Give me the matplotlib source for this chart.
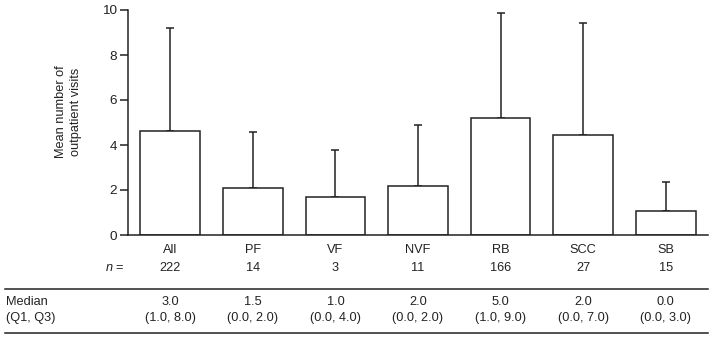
import matplotlib.pyplot as plt
from matplotlib.transforms import blended_transform_factory

plt.rcParams['font.family'] = ['Liberation Sans', 'DejaVu Sans']
plt.rcParams['mathtext.fontset'] = 'custom'
plt.rcParams['mathtext.it'] = 'Liberation Sans:italic'
plt.rcParams['mathtext.rm'] = 'Liberation Sans'

groups = ['All', 'PF', 'VF', 'NVF', 'RB', 'SCC', 'SB']
n_vals = ['222', '14', '3', '11', '166', '27', '15']
means = [4.61, 2.07, 1.69, 2.19, 5.19, 4.43, 1.08]
upper = [9.19, 4.58, 3.78, 4.89, 9.88, 9.41, 2.37]
medians = ['3.0', '1.5', '1.0', '2.0', '5.0', '2.0', '0.0']
quartiles = ['(1.0, 8.0)', '(0.0, 2.0)', '(0.0, 4.0)', '(0.0, 2.0)',
             '(1.0, 9.0)', '(0.0, 7.0)', '(0.0, 3.0)']

W, H = 714, 338
ink = '#222222'
fs = 9.2

fig = plt.figure(figsize=(W / 100, H / 100), dpi=100)
ax = fig.add_axes([128 / W, (H - 235) / H, (708 - 128) / W, 225 / H])

x = list(range(len(groups)))
err = [u - m for u, m in zip(upper, means)]
ax.bar(x, means, width=0.72, color='white', edgecolor=ink, linewidth=1.1, zorder=2)
ax.errorbar(x, means, yerr=[[0] * len(x), err], fmt='none', ecolor=ink,
            elinewidth=1.1, capsize=2.8, capthick=1.1, zorder=1)

ax.set_xlim(-0.51, 6.51)
ax.set_ylim(0, 10)
ax.set_yticks([0, 2, 4, 6, 8, 10])
ax.set_xticks([])
for s in ['top', 'right']:
    ax.spines[s].set_visible(False)
for s in ['left', 'bottom']:
    ax.spines[s].set_linewidth(1.1)
    ax.spines[s].set_color(ink)
ax.tick_params(axis='y', length=6, width=1.1, color=ink, pad=2, labelsize=fs + 0.5, labelcolor=ink)
ax.set_ylabel('Mean number of\noutpatient visits', fontsize=fs, color=ink, linespacing=1.35)
ax.yaxis.set_label_coords(-0.079, 0.547)

tr = blended_transform_factory(ax.transData, fig.transFigure)


def fy(py):
    return 1 - py / H


for xi, g, nv, md, q in zip(x, groups, n_vals, medians, quartiles):
    ax.text(xi, fy(250), g, transform=tr, ha='center', va='center', fontsize=fs, color=ink)
    ax.text(xi, fy(268), nv, transform=tr, ha='center', va='center', fontsize=fs, color=ink)
    ax.text(xi, fy(302), md, transform=tr, ha='center', va='center', fontsize=fs, color=ink)
    ax.text(xi, fy(318), q, transform=tr, ha='center', va='center', fontsize=fs, color=ink)

fig.text(124 / W, fy(268), '$n$ =', ha='right', va='center', fontsize=fs, color=ink)
fig.text(6 / W, fy(302), 'Median', ha='left', va='center', fontsize=fs, color=ink)
fig.text(6 / W, fy(318), '(Q1, Q3)', ha='left', va='center', fontsize=fs, color=ink)

for py in [289, 333]:
    fig.add_artist(plt.Line2D([5 / W, 708 / W], [fy(py), fy(py)], color=ink, linewidth=1.1))

fig.savefig('out.png', dpi=100)
